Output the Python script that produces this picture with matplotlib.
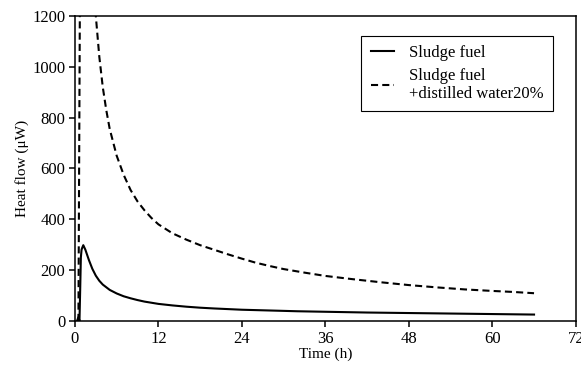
import numpy as np
import matplotlib
matplotlib.use("Agg")
import matplotlib.pyplot as plt

# heat flow data (time in h, heat flow in uW)
t_sludge = [0.3, 0.5, 0.65, 0.75, 0.85, 0.95, 1.05, 1.2, 1.5, 2.0, 2.5, 3.0,
            3.5, 4.0, 5.0, 6.0, 7.0, 8.0, 9.0, 10.0, 12.0, 14.0, 16.0, 18.0,
            20.0, 24.0, 28.0, 32.0, 36.0, 42.0, 48.0, 54.0, 60.0, 66.0]
q_sludge = [0, 15, 0, 120, 250, 280, 288, 298, 280, 240, 205, 178,
            158, 143, 122, 108, 97, 89, 82, 76, 67, 61, 56, 52,
            49, 44, 41, 38, 36, 33, 31, 29, 27, 25]

t_water = [0.5, 0.75, 1.5, 2.5, 3.0, 3.5, 4.0, 4.5, 5.0, 6.0, 7.0, 8.0, 9.0,
           10.0, 11.0, 12.0, 14.0, 16.0, 18.0, 20.0, 22.0, 24.0, 26.0, 28.0,
           30.0, 33.0, 36.0, 40.0, 44.0, 48.0, 52.0, 56.0, 60.0, 63.0, 66.0]
q_water = [0, 1500, 3000, 1800, 1200, 1040, 920, 830, 755, 650, 575, 515, 470,
           435, 405, 380, 345, 320, 298, 280, 262, 245, 229, 216,
           204, 190, 177, 164, 152, 141, 132, 124, 118, 114, 109]

plt.rcParams['font.family'] = ['Liberation Serif', 'DejaVu Serif']
plt.rcParams['font.size'] = 11

fig = plt.figure(figsize=(5.81, 3.71), dpi=100)
ax = fig.add_axes([0.129, 0.135, 0.862, 0.822])

ax.plot(t_sludge, q_sludge, color="black", linewidth=1.5, label="Sludge fuel")
ax.plot(t_water, q_water, color="black", linewidth=1.5, dashes=(3.4, 2.0),
        label="Sludge fuel\n+distilled water20%")

ax.set_xlim(0, 72)
ax.set_ylim(0, 1200)
ax.set_xticks(np.arange(0, 73, 12))
ax.set_yticks(np.arange(0, 1201, 200))
ax.tick_params(direction="out", length=4, width=1.1, labelsize=12)
ax.tick_params(axis="y", pad=3)
for s in ax.spines.values():
    s.set_linewidth(1.1)

ax.set_xlabel("Time (h)", fontsize=11, labelpad=0)
ax.set_ylabel("Heat flow (\u03bcW)", fontsize=11, labelpad=2)

leg = ax.legend(loc="upper right", bbox_to_anchor=(0.954, 0.934),
                borderaxespad=0, fancybox=False, framealpha=1,
                edgecolor="black", fontsize=12, handlelength=1.4,
                handletextpad=0.9, borderpad=0.55, labelspacing=0.4)
leg.get_frame().set_linewidth(0.8)

fig.savefig("out.png", dpi=100)
